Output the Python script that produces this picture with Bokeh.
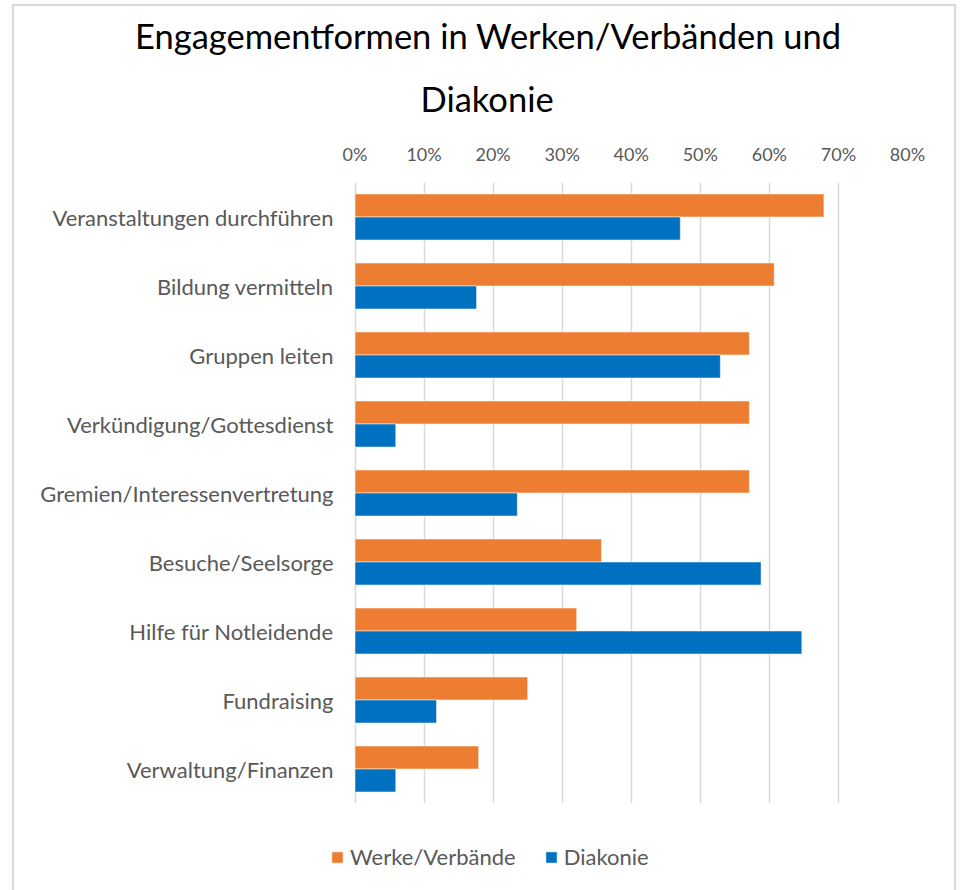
from bokeh.plotting import figure
from bokeh.layouts import column
from bokeh.models import (Title, Legend, LegendItem, FixedTicker, FactorRange,
                          Range1d, ColumnDataSource, CustomJSTickFormatter)
from bokeh.transform import dodge
from bokeh.embed import file_html
from bokeh.resources import INLINE

categories = ["Veranstaltungen durchführen", "Bildung vermitteln", "Gruppen leiten",
              "Verkündigung/Gottesdienst", "Gremien/Interessenvertretung",
              "Besuche/Seelsorge", "Hilfe für Notleidende", "Fundraising",
              "Verwaltung/Finanzen"]
werke = [67.9, 60.7, 57.1, 57.1, 57.1, 35.7, 32.1, 25.0, 17.9]
diakonie = [47.1, 17.6, 52.9, 5.9, 23.5, 58.8, 64.7, 11.8, 5.9]
series_names = ["Werke/Verbände", "Diakonie"]
series_colors = ["#ED7D31", "#0070C0"]
series_fields = ["werke", "diakonie"]
x_ticks = [0, 10, 20, 30, 40, 50, 60, 70, 80]
title_lines = ["Engagementformen in Werken/Verbänden und", "Diakonie"]

FONT = "Lato"
TXT = "#595959"
W = 940

src = ColumnDataSource(dict(cat=categories, werke=werke, diakonie=diakonie))

# frame starts a little left of 0 % so the legend below lines up with the reference
p = figure(width=W, height=824, output_backend="svg", toolbar_location=None,
           x_range=Range1d(-3.55, 80), y_range=FactorRange(*reversed(categories)),
           x_axis_location="above",
           min_border_left=316, min_border_right=47, min_border_top=176,
           min_border_bottom=27)
p.y_range.range_padding = 0
p.outline_line_color = None


def add_bars(fig, visible=True):
    rs = []
    for field, color, off in zip(series_fields, series_colors, [1/6, -1/6]):
        rs.append(fig.hbar(y=dodge("cat", off, range=p.y_range), right=field, left=0,
                           height=1/3, source=src, fill_color=color,
                           line_color="white", line_alpha=0.5, line_width=1,
                           visible=visible))
    return rs


add_bars(p)

xa = p.xaxis[0]
xa.ticker = FixedTicker(ticks=x_ticks)
xa.formatter = CustomJSTickFormatter(code="return tick.toFixed(0) + '%';")
xa.axis_line_color = None
xa.major_tick_line_color = None
xa.minor_tick_line_color = None
xa.major_label_text_font = FONT
xa.major_label_text_font_size = "18px"
xa.major_label_text_color = TXT
xa.major_label_standoff = 12

ya = p.yaxis[0]
ya.axis_line_color = None
ya.major_tick_line_color = None
ya.minor_tick_line_color = None
ya.major_tick_in = 0
ya.major_tick_out = 0
ya.major_label_text_font = FONT
ya.major_label_text_font_size = "22px"
ya.major_label_text_color = TXT
try:
    ya.major_label_standoff = -3
except Exception:
    ya.major_label_standoff = 0

p.ygrid.grid_line_color = None
p.xgrid.grid_line_color = "#D9D9D9"
p.xgrid.grid_line_width = 1.5

# title lines: first added sits nearest to the axis
for txt, off, so in zip(reversed(title_lines), [90, -195.5], [41, 0]):
    p.add_layout(Title(text=txt, align="left", offset=off, standoff=so,
                       text_font=FONT, text_font_size="34.5px",
                       text_font_style="normal", text_color="#000000"), "above")

# legend strip (shares the ranges, uses hidden copies of the bars as legend proxies)
lg = figure(width=W, height=60, output_backend="svg", toolbar_location=None,
            x_range=p.x_range, y_range=p.y_range,
            x_axis_location=None, y_axis_location=None, min_border=0)
lg.grid.visible = False
lg.outline_line_color = None
proxies = add_bars(lg, visible=False)
legend = Legend(items=[LegendItem(label=n, renderers=[r])
                       for n, r in zip(series_names, proxies)],
                orientation="horizontal", location=(0, 20),
                padding=0, margin=0, spacing=28, label_standoff=6,
                glyph_width=14, glyph_height=14,
                label_text_font=FONT, label_text_font_size="22px",
                label_text_color=TXT, border_line_color=None,
                background_fill_alpha=0, inactive_fill_alpha=0)
lg.add_layout(legend, "center")

page = column(p, lg, spacing=0)
page.styles = {"border": "2px solid #D9D9D9", "margin-left": "12px",
               "margin-top": "4px", "background-color": "white"}

open("out.html", "w").write(file_html(page, INLINE))
